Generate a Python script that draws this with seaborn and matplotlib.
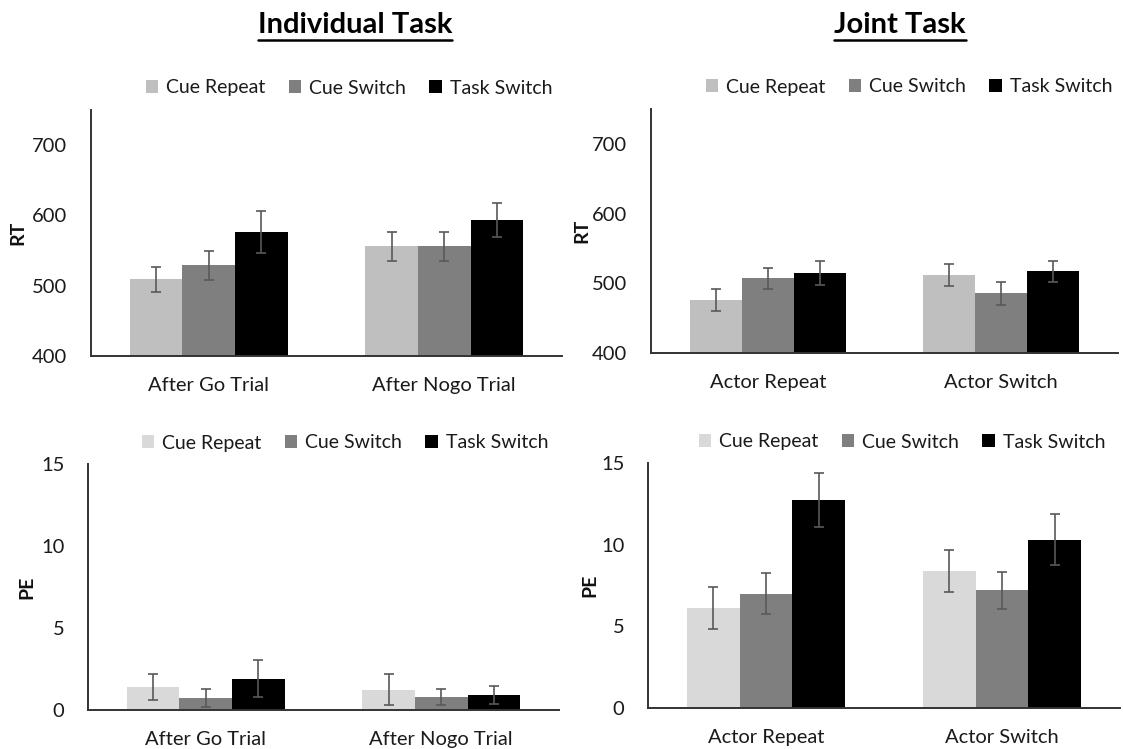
import matplotlib
matplotlib.use("Agg")
import matplotlib.pyplot as plt
from matplotlib.lines import Line2D
import pandas as pd
import seaborn as sns

sns.set_theme(style="white")
plt.rcParams["font.family"] = ["Lato", "DejaVu Sans"]

# ---- data ----
conditions = ["Cue Repeat", "Cue Switch", "Task Switch"]
indiv_groups = ["After Go Trial", "After Nogo Trial"]
joint_groups = ["Actor Repeat", "Actor Switch"]

# Individual task, reaction time (ms) and standard errors
indiv_rt = [[509, 529, 576], [556, 556, 593]]
indiv_rt_se = [[17.5, 21, 30], [20.5, 21, 24]]
# Joint task, reaction time (ms) and standard errors
joint_rt = [[476, 507, 515], [512, 486, 517]]
joint_rt_se = [[16, 15.5, 17], [16, 16.5, 15.5]]
# Individual task, percentage of errors and standard errors
indiv_pe = [[1.4, 0.75, 1.9], [1.25, 0.8, 0.9]]
indiv_pe_se = [[0.8, 0.55, 1.13], [0.95, 0.5, 0.55]]
# Joint task, percentage of errors and standard errors
joint_pe = [[6.1, 7.0, 12.75], [8.4, 7.2, 10.3]]
joint_pe_se = [[1.28, 1.24, 1.64], [1.29, 1.14, 1.57]]

rt_colors = ["#bfbfbf", "#7f7f7f", "#000000"]
pe_colors = ["#d9d9d9", "#7f7f7f", "#000000"]

W, H = 1123, 749
fig = plt.figure(figsize=(W / 100, H / 100), dpi=100)


def px_axes(left, right, top, bottom):
    return fig.add_axes([left / W, 1 - bottom / H, (right - left) / W, (bottom - top) / H])


def long_frame(groups, means, ses):
    rows = []
    for g, mrow, srow in zip(groups, means, ses):
        for c, m, s in zip(conditions, mrow, srow):
            rows.append({"group": g, "condition": c, "value": m, "se": s})
    return pd.DataFrame(rows)


def panel(ax, groups, means, ses, colors, ylim, yticks, ylabel, ylabel_x, legend_xy):
    df = long_frame(groups, means, ses)
    sns.barplot(data=df, x="group", y="value", hue="condition",
                hue_order=conditions, order=groups, palette=colors,
                width=0.67, errorbar=None, saturation=1, linewidth=0,
                ax=ax, legend=True)
    # error bars at the centre of each drawn bar
    for c_idx, cond in enumerate(conditions):
        sub = df[df["condition"] == cond]
        cont = ax.containers[c_idx]
        xs = [b.get_x() + b.get_width() / 2 for b in cont]
        ax.errorbar(xs, sub["value"].values, yerr=sub["se"].values, fmt="none",
                    ecolor="#595959", elinewidth=1.2, capsize=3.5, capthick=1.2,
                    zorder=5)
    ax.set_xlim(-0.5, 1.5)
    ax.set_ylim(*ylim)
    ax.set_yticks(yticks)
    ax.set_yticklabels([str(t) for t in yticks])
    ax.set_xlabel("")
    ax.set_ylabel("")
    ax.tick_params(axis="both", length=0, labelsize=14.5, colors="#1a1a1a")
    ax.tick_params(axis="y", pad=17)
    ax.tick_params(axis="x", pad=15)
    for side in ["top", "right"]:
        ax.spines[side].set_visible(False)
    for side in ["left", "bottom"]:
        ax.spines[side].set_color("#333333")
        ax.spines[side].set_linewidth(1.4)
    # y label placed in figure pixel coordinates
    bb = ax.get_position()
    fig.text(ylabel_x / W, (bb.y0 + bb.y1) / 2, ylabel, rotation=90,
             ha="center", va="center", fontsize=14, fontweight="bold",
             color="#111111")
    handles, labels = ax.get_legend_handles_labels()
    ax.get_legend().remove()
    fig.legend(handles, labels, loc="center",
               bbox_to_anchor=(legend_xy[0] / W, 1 - legend_xy[1] / H),
               ncol=3, frameon=False, fontsize=14,
               handlelength=0.65, handleheight=0.65, handletextpad=0.4,
               columnspacing=1.2, borderpad=0, labelcolor="#1a1a1a")


ax_tl = px_axes(91, 562, 110, 356)
panel(ax_tl, indiv_groups, indiv_rt, indiv_rt_se, rt_colors,
      (400, 750), [400, 500, 600, 700], "RT", 18, (349, 88))

ax_tr = px_axes(651, 1118, 109, 353)
panel(ax_tr, joint_groups, joint_rt, joint_rt_se, rt_colors,
      (400, 750), [400, 500, 600, 700], "RT", 582, (909, 87))

ax_bl = px_axes(88, 559, 464, 710)
panel(ax_bl, indiv_groups, indiv_pe, indiv_pe_se, pe_colors,
      (0, 15), [0, 5, 10, 15], "PE", 27, (345, 443))

ax_br = px_axes(648, 1120, 463, 708)
panel(ax_br, joint_groups, joint_pe, joint_pe_se, pe_colors,
      (0, 15), [0, 5, 10, 15], "PE", 590, (902, 442))

# underlined bold panel titles
titles = [("Individual Task", 355), ("Joint Task", 900)]
fig.canvas.draw()
renderer = fig.canvas.get_renderer()
for text, cx in titles:
    t = fig.text(cx / W, 1 - 25 / H, text, ha="center", va="center",
                 fontsize=21, fontweight="bold", color="#000000")
    ext = t.get_window_extent(renderer=renderer)
    y_line = ext.y0 - 2
    fig.add_artist(Line2D([ext.x0 / W, ext.x1 / W], [y_line / H, y_line / H],
                          color="#000000", linewidth=1.8,
                          transform=fig.transFigure))

fig.savefig("out.png", dpi=100, facecolor="white")
